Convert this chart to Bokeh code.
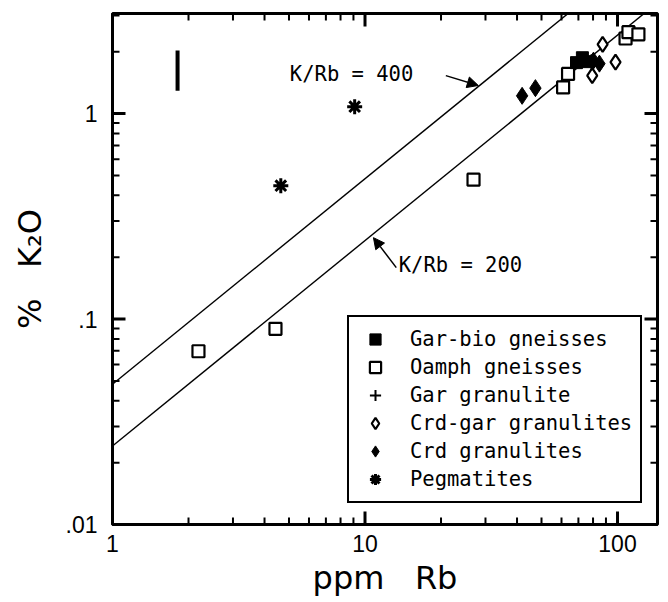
import numpy as np
from bokeh.plotting import figure
from bokeh.models import FixedTicker, Legend, LegendItem, Arrow, NormalHead, Label
from bokeh.embed import file_html
from bokeh.resources import INLINE

# ---------------- data ----------------
garbio_rb = [68.8, 72.6, 76.7]
garbio_k2o = [1.77, 1.87, 1.79]

oamph_rb = [2.19, 4.42, 26.9, 60.9, 63.7, 107.6, 110.5, 121.0]
oamph_k2o = [0.0697, 0.0896, 0.477, 1.34, 1.56, 2.32, 2.49, 2.43]

gargran_rb = [78.9]
gargran_k2o = [1.78]

crdgar_rb = [79.4, 87.3, 98.2]
crdgar_k2o = [1.53, 2.17, 1.78]

crd_rb = [41.9, 47.3, 80.3, 84.8]
crd_k2o = [1.22, 1.33, 1.81, 1.75]

peg_rb = [4.64, 9.1]
peg_k2o = [0.446, 1.08]

kr_ratios = [400, 200]
k_ppm_per_k2o_pct = 8301.0

errbar_rb = [1.81]
errbar_lo = [1.29]
errbar_hi = [2.03]

x_major = [1, 10, 100]
x_major_labels = ["1", "10", "100"]
x_minor = [2, 3, 4, 5, 6, 7, 8, 9, 20, 30, 40, 50, 60, 70, 80, 90]
y_major = [0.01, 0.1, 1]
y_major_labels = [".01", ".1", "1"]
y_minor = [0.02, 0.03, 0.04, 0.05, 0.06, 0.07, 0.08, 0.09,
           0.2, 0.3, 0.4, 0.5, 0.6, 0.7, 0.8, 0.9, 2, 3]

x_lim = (1, 144)
y_lim = (0.01, 3.07)

# ---------------- figure ----------------
TICK_FONT = "Liberation Sans"
MONO = "DejaVu Sans Mono"
FRAME_W, FRAME_H = 545, 511

p = figure(frame_width=FRAME_W, frame_height=FRAME_H,
           x_axis_type="log", y_axis_type="log",
           x_range=x_lim, y_range=y_lim,
           output_backend="svg", toolbar_location=None,
           min_border_left=112, min_border_top=13, min_border_right=11,
           min_border_bottom=60)
p.grid.visible = False
p.outline_line_color = "black"
p.outline_line_width = 3
p.outline_line_alpha = 1
p.background_fill_color = None
p.border_fill_color = None

xt = FixedTicker(ticks=x_major, minor_ticks=x_minor)
yt = FixedTicker(ticks=y_major, minor_ticks=y_minor)

for ax in (p.xaxis[0], p.yaxis[0]):
    ax.axis_line_width = 3
    ax.axis_line_color = "black"
    ax.major_tick_in = 0
    ax.major_tick_out = 0
    ax.minor_tick_in = 0
    ax.minor_tick_out = 0
    ax.major_label_text_font = TICK_FONT
    ax.major_label_text_font_size = "23px"
    ax.major_label_text_color = "black"
    ax.axis_label_text_font = "DejaVu Sans"
    ax.axis_label_text_font_size = "32px"
    ax.axis_label_text_font_style = "normal"
    ax.axis_label_text_color = "black"

xa = p.xaxis[0]
xa.ticker = xt
xa.major_label_overrides = {v: s for v, s in zip(x_major, x_major_labels)}
xa.major_label_standoff = 10
xa.axis_label = "ppm\u00a0\u00a0\u00a0Rb"
xa.axis_label_standoff = 4

ya = p.yaxis[0]
ya.ticker = yt
ya.major_label_overrides = {v: s for v, s in zip(y_major, y_major_labels)}
ya.major_label_standoff = 15
ya.axis_label = "%\u00a0\u00a0\u00a0K\u2082O"
ya.axis_label_standoff = 14

# ---------------- reference lines ----------------
line_x = np.array(x_lim, dtype=float)
for r in kr_ratios:
    p.line(line_x, r * line_x / k_ppm_per_k2o_pct, line_color="black", line_width=1.4)

# error bar
p.segment(x0=errbar_rb, y0=errbar_lo, x1=errbar_rb, y1=errbar_hi,
          line_color="black", line_width=4)

# ---------------- scatter ----------------
r_oamph = p.scatter(oamph_rb, oamph_k2o, marker="square", size=12,
                    fill_color="white", line_color="black", line_width=2.2)
r_crdgar = p.scatter(crdgar_rb, crdgar_k2o, marker="diamond", size=15,
                     fill_color="white", line_color="black", line_width=2.2)
r_garbio = p.scatter(garbio_rb, garbio_k2o, marker="square", size=12,
                     fill_color="black", line_color="black", line_width=1)
r_crd = p.scatter(crd_rb, crd_k2o, marker="diamond", size=17,
                  fill_color="black", line_color="black", line_width=1)
r_gargran = p.scatter(gargran_rb, gargran_k2o, marker="cross", size=16,
                      line_color="black", line_width=2)
r_peg = p.scatter(peg_rb, peg_k2o, marker="asterisk", size=15,
                  line_color="black", line_width=3)

# inward tick marks on all four sides (added after the data glyphs);
# tick length in pixels converted to a multiplicative step on the log axes
x_px_per_dec = FRAME_W / np.log10(x_lim[1] / x_lim[0])
y_px_per_dec = FRAME_H / np.log10(y_lim[1] / y_lim[0])


def add_ticks(vals, horizontal_axis, length_px, width):
    vals = [float(v) for v in vals]
    n = len(vals)
    if horizontal_axis:
        f = float(10 ** (length_px / y_px_per_dec))
        lo, hi = float(y_lim[0]), float(y_lim[1])
        p.segment(x0=vals + vals, y0=[lo] * n + [hi] * n,
                  x1=vals + vals, y1=[lo * f] * n + [hi / f] * n,
                  line_color="black", line_width=width)
    else:
        f = float(10 ** (length_px / x_px_per_dec))
        lo, hi = float(x_lim[0]), float(x_lim[1])
        p.segment(x0=[lo] * n + [hi] * n, y0=vals + vals,
                  x1=[lo * f] * n + [hi / f] * n, y1=vals + vals,
                  line_color="black", line_width=width)


add_ticks(x_major, True, 13, 3)
add_ticks(x_minor, True, 7, 2)
add_ticks(y_major, False, 13, 3)
add_ticks(y_minor, False, 7, 2)

legend = Legend(items=[
    LegendItem(label="Gar-bio gneisses", renderers=[r_garbio]),
    LegendItem(label="Oamph gneisses", renderers=[r_oamph]),
    LegendItem(label="Gar granulite", renderers=[r_gargran]),
    LegendItem(label="Crd-gar granulites", renderers=[r_crdgar]),
    LegendItem(label="Crd granulites", renderers=[r_crd]),
    LegendItem(label="Pegmatites", renderers=[r_peg]),
], location=(235, 21))
legend.label_text_font = MONO
legend.label_text_font_size = "20.5px"
legend.label_text_color = "black"
legend.padding = 8
legend.spacing = 0
legend.glyph_width = 36
legend.glyph_height = 28
legend.label_height = 24
legend.label_standoff = 17
legend.border_line_color = "black"
legend.border_line_alpha = 1
legend.border_line_width = 2
legend.background_fill_color = "white"
legend.background_fill_alpha = 1
legend.margin = 0
p.add_layout(legend, "center")

# ---------------- annotations ----------------
p.add_layout(Label(x=5.04, y=1.55, text="K/Rb = 400", text_font=MONO,
                   text_font_size="20.5px", text_baseline="middle", text_color="black"))
p.add_layout(Label(x=13.6, y=0.184, text="K/Rb = 200", text_font=MONO,
                   text_font_size="20.5px", text_baseline="middle", text_color="black"))
p.add_layout(Arrow(end=NormalHead(size=11, fill_color="black", line_color="black"),
                   x_start=20.9, y_start=1.53, x_end=28.1, y_end=1.37,
                   line_width=1.5, line_color="black"))
p.add_layout(Arrow(end=NormalHead(size=11, fill_color="black", line_color="black"),
                   x_start=13.3, y_start=0.178, x_end=10.8, y_end=0.249,
                   line_width=1.5, line_color="black"))

open("out.html", "w").write(file_html(p, INLINE))
